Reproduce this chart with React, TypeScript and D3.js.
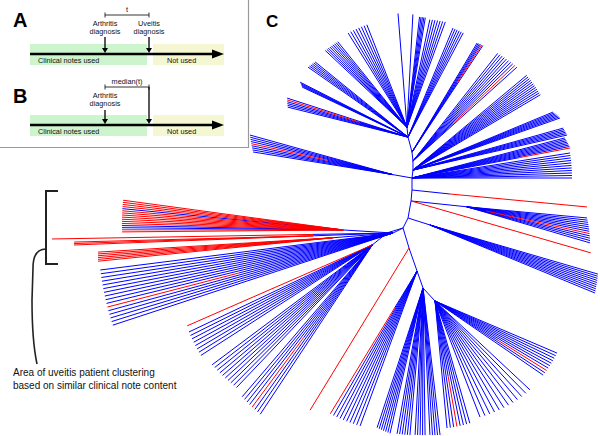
import React from "react";
import * as d3 from "d3";

const BLUE = "#0000ff";
const RED = "#ff0000";
const FONT = "'Liberation Sans', Arial, Helvetica, sans-serif";

// Tree backbone: each node hangs off its parent at an angle (deg, screen) with a branch length
const spineNodes = [
  { id: "r", parent: "", angle: 0, length: 0 },
  { id: "e", parent: "r", angle: -90, length: 12 },
  { id: "d", parent: "e", angle: -83, length: 8 },
  { id: "c", parent: "d", angle: -90, length: 9 },
  { id: "b", parent: "c", angle: -96, length: 9 },
  { id: "a", parent: "b", angle: -105, length: 15.5 },
  { id: "t", parent: "a", angle: -96, length: 10 },
  { id: "g", parent: "r", angle: 95, length: 11 },
  { id: "h", parent: "g", angle: 100, length: 17.3 },
  { id: "i", parent: "h", angle: 116.6, length: 11.2 },
  { id: "L", parent: "i", angle: 153.4, length: 11.2 },
  { id: "L1", parent: "i", angle: 163, length: 16.5 },
  { id: "LL", parent: "L1", angle: 141, length: 19.2 },
  { id: "j", parent: "i", angle: 73.3, length: 20.9 },
  { id: "k", parent: "j", angle: 70.8, length: 24.4 },
  { id: "m", parent: "k", angle: 70.6, length: 18 },
  { id: "n", parent: "m", angle: 47.3, length: 17.7 },
];

// Leaf fans: b = non-uveitis patient (blue), r = uveitis patient (red)
const fans = [
  { node: "t", stemA: 0, stemL: 0, a0: -94.5, a1: -94.5, l0: 114, l1: 114, leaves: "b", redFrom: 0 },
  { node: "t", stemA: 0, stemL: 0, a0: -87, a1: -87, l0: 113, l1: 113, leaves: "b", redFrom: 0 },
  { node: "t", stemA: 0, stemL: 0, a0: -83.5, a1: -80.5, l0: 111, l1: 111, leaves: "bbbbb", redFrom: 0 },
  { node: "t", stemA: 0, stemL: 0, a0: -78, a1: -70, l0: 110, l1: 112, leaves: "bbbbbbb", redFrom: 0 },
  { node: "t", stemA: 0, stemL: 0, a0: -122, a1: -111.4, l0: 111, l1: 110, leaves: "bbbbbbbb", redFrom: 0 },
  { node: "t", stemA: 0, stemL: 0, a0: -136.8, a1: -129, l0: 112, l1: 110, leaves: "bbbbbbbbb", redFrom: 0 },
  { node: "a", stemA: 0, stemL: 0, a0: -145, a1: -141, l0: 122, l1: 119.5, leaves: "bbbbbb", redFrom: 0 },
  { node: "a", stemA: 0, stemL: 0, a0: -153, a1: -154.7, l0: 121, l1: 117, leaves: "bbbbb", redFrom: 0 },
  { node: "a", stemA: 0, stemL: 0, a0: -162.1, a1: -166, l0: 127, l1: 124, leaves: "brbbbb", redFrom: 0.4 },
  { node: "a", stemA: 0, stemL: 0, a0: -67.6, a1: -62.1, l0: 118, l1: 118, leaves: "bbbbbb", redFrom: 0 },
  { node: "b", stemA: 0, stemL: 0, a0: -59.2, a1: -56.4, l0: 127, l1: 128, leaves: "bbbbrb", redFrom: 0.65 },
  { node: "c", stemA: 0, stemL: 0, a0: -51.8, a1: -42.1, l0: 137, l1: 140, leaves: "bbbbbbbbrb", redFrom: 0.4 },
  { node: "d", stemA: 0, stemL: 0, a0: -39.8, a1: -30.6, l0: 148, l1: 148, leaves: "bbbbbbbbbbbb", redFrom: 0 },
  { node: "d", stemA: 0, stemL: 0, a0: -22.5, a1: -19.5, l0: 151.5, l1: 156, leaves: "bbbbbbb", redFrom: 0 },
  { node: "d", stemA: 0, stemL: 0, a0: -15.6, a1: -12.8, l0: 156, l1: 158, leaves: "bbbbbb", redFrom: 0 },
  { node: "e", stemA: 0, stemL: 0, a0: -14.7, a1: -10.75, l0: 158, l1: 161, leaves: "bbbbbbbr", redFrom: 0.68 },
  { node: "e", stemA: 0, stemL: 0, a0: -9, a1: 0, l0: 160, l1: 160, leaves: "bbbbbbbbbbb", redFrom: 0 },
  { node: "e", stemA: 190, stemL: 20, a0: 195.5, a1: 189.2, l0: 147.7, l1: 141.1, leaves: "bbbbrbbbb", redFrom: 0.46 },
  { node: "r", stemA: 6, stemL: 38, a0: 5.4, a1: 5.4, l0: 137.8, l1: 137.8, leaves: "r", redFrom: 0 },
  { node: "g", stemA: 6, stemL: 56, a0: 5.3, a1: 16.3, l0: 120.8, l1: 128.5, leaves: "bbbbbbbrbbbb", redFrom: 0.16 },
  { node: "g", stemA: 0, stemL: 0, a0: 16.1, a1: 16.1, l0: 187, l1: 187, leaves: "r", redFrom: 0 },
  { node: "h", stemA: 17.7, stemL: 23, a0: 16.3, a1: 22.4, l0: 175, l1: 178.5, leaves: "bbbbbbbbbb", redFrom: 0 },
  { node: "L", stemA: 183.5, stemL: 50, a0: 187.7, a1: 179.5, l0: 222, l1: 221, leaves: "rrrrbrrrrrrrbbrr", redFrom: 0 },
  { node: "L", stemA: 179, stemL: 80, a0: 179, a1: 179, l0: 261, l1: 261, leaves: "r", redFrom: 0 },
  { node: "L", stemA: 178, stemL: 80, a0: 178.5, a1: 177.8, l0: 239, l1: 239.2, leaves: "rrr", redFrom: 0 },
  { node: "L", stemA: 175.5, stemL: 60, a0: 176.5, a1: 174.3, l0: 235.6, l1: 236.3, leaves: "rrrrrr", redFrom: 0 },
  { node: "L", stemA: 0, stemL: 0, a0: 172.8, a1: 161.8, l0: 295, l1: 295, leaves: "bbbbbbbbbbrbbbbb", redFrom: 0.54 },
  { node: "LL", stemA: 0, stemL: 0, a0: 156.4, a1: 156.4, l0: 202, l1: 202, leaves: "r", redFrom: 0 },
  { node: "LL", stemA: 0, stemL: 0, a0: 154.6, a1: 147.2, l0: 203, l1: 204, leaves: "bbbbbbbb", redFrom: 0 },
  { node: "LL", stemA: 0, stemL: 0, a0: 143.2, a1: 133.6, l0: 200, l1: 197, leaves: "bbbbbbbbbb", redFrom: 0 },
  { node: "LL", stemA: 0, stemL: 0, a0: 130.6, a1: 123.5, l0: 200, l1: 203, leaves: "bbbbrbbb", redFrom: 0.57 },
  { node: "j", stemA: 0, stemL: 0, a0: 121.4, a1: 121.4, l0: 190, l1: 190, leaves: "r", redFrom: 0 },
  { node: "k", stemA: 0, stemL: 0, a0: 121.3, a1: 110.2, l0: 167, l1: 165, leaves: "rbbbbbbbbb", redFrom: 0.26 },
  { node: "m", stemA: 0, stemL: 0, a0: 108.2, a1: 102.8, l0: 147, l1: 149, leaves: "bbbbbbb", redFrom: 0 },
  { node: "m", stemA: 0, stemL: 0, a0: 100.1, a1: 95.1, l0: 148, l1: 147.6, leaves: "bbbbbb", redFrom: 0 },
  { node: "m", stemA: 0, stemL: 0, a0: 93.1, a1: 89.2, l0: 147, l1: 147, leaves: "bbbbb", redFrom: 0 },
  { node: "m", stemA: 0, stemL: 0, a0: 87.3, a1: 83.4, l0: 147, l1: 148, leaves: "bbbbb", redFrom: 0 },
  { node: "n", stemA: 0, stemL: 0, a0: 84.6, a1: 74.1, l0: 127.6, l1: 127, leaves: "bbbrbbbb", redFrom: 0.6 },
  { node: "n", stemA: 0, stemL: 0, a0: 68.8, a1: 43.1, l0: 124.4, l1: 130, leaves: "bbbbbbbbbbbb", redFrom: 0 },
  { node: "n", stemA: 0, stemL: 0, a0: 23.1, a1: 34.4, l0: 132.6, l1: 131, leaves: "bbbbbbbrbb", redFrom: 0.57 },
];

// Panel A / B texts
const panelLabels = ["A", "B"];
const timelineSegments = ["Clinical notes used", "Not used"];
const eventLabelsA = [["Arthritis", "diagnosis"], ["Uveitis", "diagnosis"]];
const eventLabelsB = [["Arthritis", "diagnosis"]];
const intervalLabels = ["t", "median(t)"];
const annotationLines = ["Area of uveitis patient clustering", "based on similar clinical note content"];

const W = 600;
const H = 436;

const rad = (deg: number) => (deg * Math.PI) / 180;

type Seg = { x1: number; y1: number; x2: number; y2: number; color: string };

function buildTree() {
  const pos: Record<string, [number, number]> = {};
  const segs: Seg[] = [];
  for (const n of spineNodes) {
    if (!n.parent) {
      pos[n.id] = [0, 0];
    } else {
      const p = pos[n.parent];
      const q: [number, number] = [p[0] + n.length * Math.cos(rad(n.angle)), p[1] + n.length * Math.sin(rad(n.angle))];
      pos[n.id] = q;
      segs.push({ x1: p[0], y1: p[1], x2: q[0], y2: q[1], color: BLUE });
    }
  }
  const reds: Seg[] = [];
  for (const f of fans) {
    const p = pos[f.node];
    const hub: [number, number] = [p[0] + f.stemL * Math.cos(rad(f.stemA)), p[1] + f.stemL * Math.sin(rad(f.stemA))];
    if (f.stemL > 0) segs.push({ x1: p[0], y1: p[1], x2: hub[0], y2: hub[1], color: BLUE });
    const m = f.leaves.length;
    const idx = d3.scaleLinear().domain([0, Math.max(1, m - 1)]);
    const ang = idx.copy().range([f.a0, f.a1]);
    const len = idx.copy().range([f.l0, f.l1]);
    for (let i = 0; i < m; i++) {
      const a = rad(ang(i));
      const L = len(i);
      const ex = hub[0] + L * Math.cos(a);
      const ey = hub[1] + L * Math.sin(a);
      if (f.leaves[i] === "r") {
        const mx = hub[0] + L * f.redFrom * Math.cos(a);
        const my = hub[1] + L * f.redFrom * Math.sin(a);
        if (f.redFrom > 0) segs.push({ x1: hub[0], y1: hub[1], x2: mx, y2: my, color: BLUE });
        reds.push({ x1: mx, y1: my, x2: ex, y2: ey, color: RED });
      } else {
        segs.push({ x1: hub[0], y1: hub[1], x2: ex, y2: ey, color: BLUE });
      }
    }
  }
  return segs.concat(reds);
}

function Panel({ dy, label, events, interval, intervalY, labelY }: any) {
  const arrowY = 54 + dy;
  return (
    <g>
      <text x={13} y={labelY} fontSize={20} fontWeight="bold" fontFamily={FONT}>{label}</text>
      <rect x={30} y={44 + dy} width={117} height={21} fill="#cdf5cd" />
      <rect x={153} y={44 + dy} width={71} height={21} fill="#f5f7d2" />
      <line x1={30} y1={arrowY} x2={214} y2={arrowY} stroke="#000" strokeWidth={2.4} />
      <path d={`M212,${arrowY - 4.5} L224,${arrowY} L212,${arrowY + 4.5} Z`} fill="#000" />
      <text x={38} y={63 + dy} fontSize={7.3} fontFamily={FONT} fill="#111">{timelineSegments[0]}</text>
      <text x={167} y={63 + dy} fontSize={7.3} fontFamily={FONT} fill="#111">{timelineSegments[1]}</text>
      <line x1={105} y1={intervalY} x2={149} y2={intervalY} stroke="#000" strokeWidth={0.8} />
      <line x1={105} y1={intervalY - 2.5} x2={105} y2={intervalY + 2.5} stroke="#000" strokeWidth={0.8} />
      <line x1={149} y1={intervalY - 2.5} x2={149} y2={intervalY + 2.5} stroke="#000" strokeWidth={0.8} />
      <text x={127} y={intervalY - 3} fontSize={7.3} textAnchor="middle" fontFamily={FONT} fill="#111">{interval}</text>
      {events.map((ev: any, i: number) => (
        <g key={i}>
          {ev.lines.map((s: string, k: number) => (
            <text key={k} x={ev.x} y={ev.textY + k * 8} fontSize={7.3} textAnchor="middle" fontFamily={FONT} fill="#111">{s}</text>
          ))}
          <line x1={ev.x} y1={ev.y0} x2={ev.x} y2={arrowY - 4} stroke="#000" strokeWidth={1.3} />
          <path d={`M${ev.x - 3},${arrowY - 6} L${ev.x + 3},${arrowY - 6} L${ev.x},${arrowY - 1} Z`} fill="#000" />
        </g>
      ))}
    </g>
  );
}

export default function App() {
  const x = d3.scaleLinear().domain([-412, 188]).range([0, W]);
  const y = d3.scaleLinear().domain([-190, 246]).range([0, H]);
  const segs = buildTree();
  return (
    <svg width={W} height={H} style={{ position: "absolute", left: 0, top: 0, background: "#fff" }}>
      <rect x={0} y={0} width={W} height={H} fill="#fff" />
      <g strokeLinecap="butt">
        {segs.map((s, i) => (
          <line key={i} x1={x(s.x1)} y1={y(s.y1)} x2={x(s.x2)} y2={y(s.y2)} stroke={s.color} strokeWidth={1} />
        ))}
      </g>
      <text x={266} y={27} fontSize={17} fontWeight="bold" fontFamily={FONT}>C</text>

      <path d="M248.5,0 V147.5 H0" fill="none" stroke="#999" strokeWidth={1.2} />
      <Panel
        dy={0}
        label={panelLabels[0]}
        labelY={27}
        interval={intervalLabels[0]}
        intervalY={15}
        events={[
          { x: 105, lines: eventLabelsA[0], textY: 26, y0: 37 },
          { x: 149, lines: eventLabelsA[1], textY: 26, y0: 37 },
        ]}
      />
      <Panel
        dy={71}
        label={panelLabels[1]}
        labelY={103}
        interval={intervalLabels[1]}
        intervalY={87}
        events={[
          { x: 105, lines: eventLabelsB[0], textY: 98, y0: 110 },
          { x: 149, lines: [], textY: 0, y0: 87 },
        ]}
      />

      <path d="M58,191 H46 V264 H58" fill="none" stroke="#222" strokeWidth={2} />
      <path d="M46,249 C38,249 33,255 33,268 L32,300 C32,328 34,350 37,364" fill="none" stroke="#222" strokeWidth={1.6} />
      {annotationLines.map((s, i) => (
        <text key={i} x={13} y={376 + i * 13} fontSize={10} fontFamily={FONT} fill="#111">{s}</text>
      ))}
    </svg>
  );
}
